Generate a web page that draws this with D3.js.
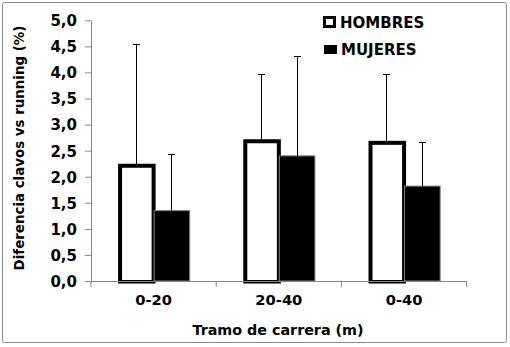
<!DOCTYPE html>
<html><head><meta charset="utf-8">
<script src="https://cdn.jsdelivr.net/npm/d3@7"></script>
<style>body{margin:0;background:#fff}svg{display:block}text{font-family:"DejaVu Sans",sans-serif;font-weight:bold;fill:#000}</style>
</head><body><svg id="c" width="510" height="347"></svg>
<script>
const categories = ["0-20", "20-40", "0-40"];
const series = ["HOMBRES", "MUJERES"];
const hombres = [2.21, 2.68, 2.65];
const mujeres = [1.35, 2.40, 1.82];
const hombresErr = [4.55, 3.97, 3.97];
const mujeresErr = [2.43, 4.31, 2.66];
const yTicks = [0, 0.5, 1, 1.5, 2, 2.5, 3, 3.5, 4, 4.5, 5];

const svg = d3.select("#c");
const L = 91, R = 466.7, T = 20.3, B = 281;
svg.append("rect").attr("x", 2.5).attr("y", 2.5).attr("width", 504).attr("height", 340)
  .attr("fill", "#fff").attr("stroke", "#8c8c8c").attr("stroke-width", 1).attr("rx", 2);

const x = d3.scaleBand().domain(categories).range([L, R]).paddingInner(0.432).paddingOuter(0.216);
const xs = d3.scaleBand().domain(series).range([0, x.bandwidth()]);
const y = d3.scaleLinear().domain([0, 5]).range([B, T]);

svg.append("defs").append("clipPath").attr("id", "clip")
  .append("rect").attr("x", 0).attr("y", 0).attr("width", 510).attr("height", B + 2.5);

const g = svg.append("g").attr("clip-path", "url(#clip)");
const data = categories.map((c, i) => ({c, h: hombres[i], m: mujeres[i], he: hombresErr[i], me: mujeresErr[i]}));

// error bars
const cap = 3.5;
data.forEach(d => {
  [["HOMBRES", d.h, d.he], ["MUJERES", d.m, d.me]].forEach(([s, v, e]) => {
    const cx = Math.round(x(d.c) + xs(s) + xs.bandwidth() / 2) + 0.5;
    svg.append("line").attr("x1", cx).attr("x2", cx).attr("y1", y(v)).attr("y2", y(e)).attr("stroke", "#000").attr("stroke-width", 1);
    svg.append("line").attr("x1", cx - cap).attr("x2", cx + cap).attr("y1", Math.round(y(e)) + 0.5).attr("y2", Math.round(y(e)) + 0.5).attr("stroke", "#000").attr("stroke-width", 1);
  });
});

g.selectAll("rect.h").data(data).join("rect").attr("class", "h")
  .attr("x", d => x(d.c) + xs("HOMBRES") + 2)
  .attr("width", xs.bandwidth() - 2)
  .attr("y", d => y(d.h)).attr("height", d => B + 1 - y(d.h))
  .attr("fill", "#fff").attr("stroke", "#000").attr("stroke-width", 4);
g.selectAll("rect.m").data(data).join("rect").attr("class", "m")
  .attr("x", d => x(d.c) + xs("MUJERES") + 0.5)
  .attr("width", xs.bandwidth())
  .attr("y", d => y(d.m)).attr("height", d => B - y(d.m))
  .attr("fill", "#000").attr("stroke", "#808080").attr("stroke-width", 1);

// axes
const ya = svg.append("g").attr("transform", `translate(${L},0)`)
  .call(d3.axisLeft(y).tickValues(yTicks).tickSize(6).tickSizeOuter(0).tickPadding(8)
    .tickFormat(d => d3.format(".1f")(d).replace(".", ",")));
ya.select(".domain").attr("stroke", "#868686");
ya.selectAll(".tick line").attr("stroke", "#868686");
ya.selectAll(".tick text").attr("font-size", 15).attr("dy", "0.36em");

const xa = svg.append("g").attr("transform", `translate(0,${B})`);
xa.append("line").attr("x1", L).attr("x2", R).attr("y1", 0.5).attr("y2", 0.5).attr("stroke", "#868686");
const bounds = [L].concat(categories.map(c => x(c) + x.bandwidth() + x.step() * x.paddingInner() / 2));
bounds[bounds.length - 1] = R;
xa.selectAll("line.t").data(bounds).join("line").attr("class", "t")
  .attr("x1", d => d).attr("x2", d => d).attr("y1", 0).attr("y2", 6).attr("stroke", "#868686");
xa.selectAll("text").data(categories).join("text")
  .attr("x", d => x(d) + x.bandwidth() / 2).attr("y", 24).attr("text-anchor", "middle")
  .attr("font-size", 14.7).text(d => d);

svg.append("text").attr("x", 278).attr("y", 335).attr("text-anchor", "middle").attr("font-size", 14.3).text("Tramo de carrera (m)");
svg.append("text").attr("transform", "translate(24,148) rotate(-90)").attr("text-anchor", "middle").attr("font-size", 13.4).text("Diferencia clavos vs running (%)");

// legend
const lg = svg.append("g");
lg.append("rect").attr("x", 324.5).attr("y", 17.5).attr("width", 10).attr("height", 9).attr("fill", "#fff").attr("stroke", "#000").attr("stroke-width", 3);
lg.append("text").attr("x", 340).attr("y", 27.5).attr("font-size", 15).text("HOMBRES");
lg.append("rect").attr("x", 324).attr("y", 45).attr("width", 13).attr("height", 9).attr("fill", "#000");
lg.append("text").attr("x", 341).attr("y", 55).attr("font-size", 15).text("MUJERES");
</script></body></html>
